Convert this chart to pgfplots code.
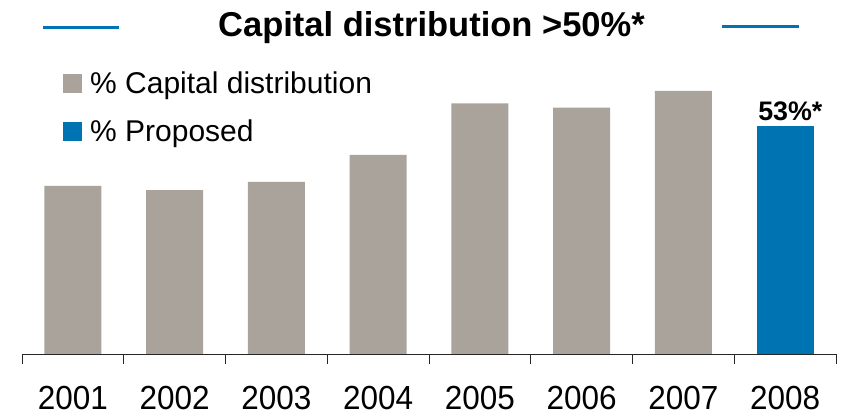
\documentclass[border=0pt]{standalone}
\usepackage{pgfplots}
\pgfplotsset{compat=1.18}
\usepackage{fontspec}
\setmainfont{Liberation Sans}
\definecolor{barGray}{HTML}{A9A39C}
\definecolor{barBlue}{HTML}{0074B3}

\begin{document}
\begin{tikzpicture}[x=1pt,y=1pt]
\useasboundingbox (0,0) rectangle (844,417);
% title with its two rules
\draw[barBlue, line width=3.5pt] (43,389.5) -- (119,389.5);
\draw[barBlue, line width=3.5pt] (722,390.5) -- (799,390.5);
\node[anchor=base, inner sep=0pt, font=\bfseries\fontsize{34.5}{36}\selectfont] at (431.5,380) {Capital distribution >50\%*};
\begin{axis}[
    at={(22pt,63pt)}, anchor=south west,
    scale only axis, width=814pt, height=344pt,
    xmin=0.5, xmax=8.5, ymin=0, ymax=80,
    axis x line*=bottom, axis y line=none,
    tick align=outside,
    xtick={1,...,8},
    xticklabels={2001,2002,2003,2004,2005,2006,2007,2008},
    major tick length=0pt,
    minor xtick={0.5,1.5,...,8.5},
    minor tick length=10pt,
    minor tick style={black!85, line width=0.8pt},
    x axis line style={black!85, line width=0.8pt},
    xticklabel style={font=\fontsize{31.5}{32}\selectfont, anchor=base, yshift=-56pt, inner sep=0pt,
        yscale=1.06},
    legend style={at={(0.0504,0.8213)}, anchor=north west, draw=none, fill=none,
        inner sep=0pt, font=\fontsize{30}{30}\selectfont, row sep=24.7pt, column sep=8pt,
        nodes={inner sep=0pt}},
    legend cell align=left,
    legend image code/.code={\fill[#1,draw=none] (0pt,-9.5pt) rectangle (19pt,9.5pt);},
]
\addplot[ybar, bar width=57pt, bar shift=0pt, fill=barGray, draw=none]
    coordinates {(1,39.1) (2,38.1) (3,40.0) (4,46.3) (5,58.3) (6,57.3) (7,61.2)};
\addlegendentry{\% Capital distribution}
\addplot[ybar, bar width=57pt, bar shift=0pt, fill=barBlue, draw=none,
    nodes near coords={53\%\rlap{*}},
    every node near coord/.append style={font=\bfseries\fontsize{26.8}{27}\selectfont,
        anchor=base, yshift=5.4pt, inner sep=0pt, black}]
    coordinates {(8,53)};
\addlegendentry{\% Proposed}
\end{axis}
\end{tikzpicture}
\end{document}
